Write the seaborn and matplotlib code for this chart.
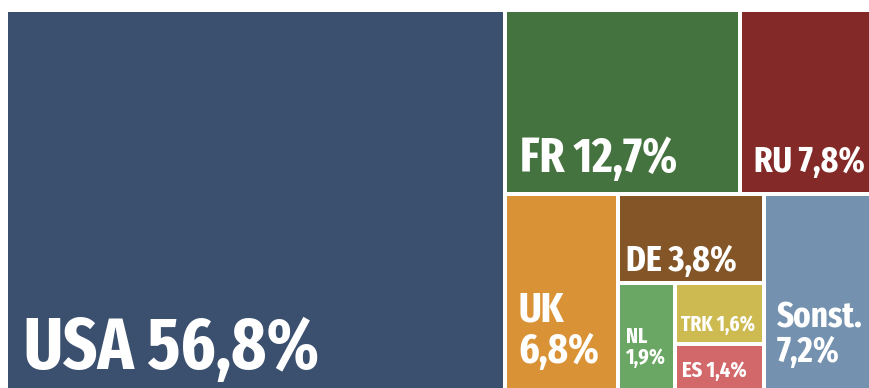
import matplotlib
matplotlib.use("Agg")
import matplotlib.pyplot as plt
from matplotlib.patches import Rectangle
import seaborn as sns

# Shares per country (percent)
laender = ["USA", "FR", "RU", "UK", "DE", "NL", "TRK", "ES", "Sonst."]
anteile = [56.8, 12.7, 7.8, 6.8, 3.8, 1.9, 1.6, 1.4, 7.2]
farben = ["#3B4F6F", "#45733F", "#832A28", "#DA9236", "#835527",
          "#6AA764", "#CDBB52", "#D2686A", "#7492B0"]

# Nesting of the treemap: "h" places children side by side, "v" stacks them
aufteilung = ("h", ["USA",
                    ("v", [("h", ["FR", "RU"]),
                           ("h", ["UK",
                                  ("v", ["DE", ("h", ["NL", ("v", ["TRK", "ES"])])]),
                                  "Sonst."])])])

# Label style per tile: width of the widest line (px), left inset, baseline gap
# to the tile bottom, line lead, two lines or one
stil = {
    "USA":    dict(breite=295, dx=16, pad=27, lead=0,  zwei=False),
    "FR":     dict(breite=157, dx=13, pad=20, lead=0,  zwei=False),
    "RU":     dict(breite=111, dx=12, pad=20, lead=0,  zwei=False),
    "UK":     dict(breite=81,  dx=12, pad=33, lead=41, zwei=True),
    "DE":     dict(breite=111, dx=6,  pad=10, lead=0,  zwei=False),
    "NL":     dict(breite=40,  dx=6,  pad=32, lead=21, zwei=True),
    "TRK":    dict(breite=74,  dx=4,  pad=11, lead=0,  zwei=False),
    "ES":     dict(breite=65,  dx=5,  pad=19, lead=0,  zwei=False),
    "Sonst.": dict(breite=86,  dx=11, pad=34, lead=35, zwei=True),
}

wert = dict(zip(laender, anteile))
farbe = dict(zip(laender, sns.color_palette(farben)))


def summe(knoten):
    if isinstance(knoten, str):
        return wert[knoten]
    return sum(summe(k) for k in knoten[1])


def layout(knoten, x, y, w, h, out):
    if isinstance(knoten, str):
        out[knoten] = (x, y, w, h)
        return
    richtung, kinder = knoten
    total = summe(knoten)
    pos = x if richtung == "h" else y
    for k in kinder:
        teil = summe(k) / total
        if richtung == "h":
            layout(k, pos, y, w * teil, h, out)
            pos += w * teil
        else:
            layout(k, x, pos, w, h * teil, out)
            pos += h * teil


sns.set_theme(style="white")
plt.rcParams["font.family"] = ["Fira Sans Extra Condensed", "PT Sans Narrow", "DejaVu Sans"]

fig = plt.figure(figsize=(8.70, 3.88), dpi=100)
ax = fig.add_axes([0, 0, 1, 1])
ax.set_xlim(0, 870)
ax.set_ylim(388, 0)
ax.axis("off")

kacheln = {}
layout(aufteilung, 6, 10, 878, 388, kacheln)
renderer = fig.canvas.get_renderer()

spalt = 2.0
for name in laender:
    x, y, w, h = kacheln[name]
    ax.add_patch(Rectangle((x + spalt, y + spalt), w - 2 * spalt, h - 2 * spalt,
                           facecolor=farbe[name], edgecolor="none"))
    s = stil[name]
    prozent = f"{wert[name]:.1f}".replace(".", ",") + "%"
    zeilen = [name, prozent] if s["zwei"] else [f"{name} {prozent}"]
    unten = y + h - spalt - s["pad"]
    texte = []
    for i, zeile in enumerate(reversed(zeilen)):
        texte.append(ax.text(x + spalt + s["dx"], unten - i * s["lead"], zeile,
                             color="white", fontsize=20, fontweight="bold",
                             ha="left", va="baseline"))
    # scale the font so the widest line spans the wanted width
    breitest = max(t.get_window_extent(renderer).width for t in texte)
    groesse = 20 * s["breite"] / breitest
    for t in texte:
        t.set_fontsize(groesse)

fig.savefig("out.png", dpi=100, facecolor="white")
